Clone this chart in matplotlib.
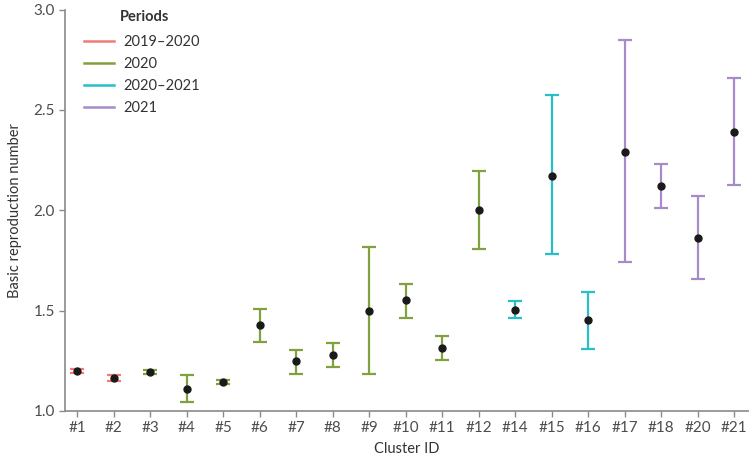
import matplotlib
matplotlib.use("Agg")
import matplotlib.pyplot as plt
from matplotlib.lines import Line2D

plt.rcParams["font.family"] = ["Lato", "DejaVu Sans"]

clusters = ["#1", "#2", "#3", "#4", "#5", "#6", "#7", "#8", "#9", "#10",
            "#11", "#12", "#14", "#15", "#16", "#17", "#18", "#20", "#21"]
r0 = [1.20, 1.165, 1.195, 1.11, 1.145, 1.43, 1.25, 1.28, 1.50, 1.55,
      1.315, 2.0, 1.505, 2.17, 1.455, 2.29, 2.12, 1.86, 2.39]
lower = [1.19, 1.15, 1.185, 1.045, 1.135, 1.345, 1.185, 1.22, 1.185, 1.465,
         1.255, 1.805, 1.465, 1.78, 1.31, 1.74, 2.01, 1.655, 2.125]
upper = [1.21, 1.178, 1.203, 1.18, 1.155, 1.51, 1.305, 1.34, 1.815, 1.63,
         1.375, 2.195, 1.545, 2.575, 1.59, 2.85, 2.23, 2.07, 2.66]
period = ["2019–2020", "2019–2020", "2020", "2020", "2020", "2020", "2020", "2020", "2020", "2020",
          "2020", "2020", "2020–2021", "2020–2021", "2020–2021", "2021", "2021", "2021", "2021"]

periods = ["2019–2020", "2020", "2020–2021", "2021"]
colors = {"2019–2020": "#F07B78", "2020": "#7FA13E", "2020–2021": "#27BFC8", "2021": "#A68AC9"}

fig = plt.figure(figsize=(7.49, 4.58), dpi=100, facecolor="white")
ax = fig.add_axes([0.087, 0.103, 0.913, 0.876])

for i, c in enumerate(clusters):
    col = colors[period[i]]
    ax.errorbar(i, r0[i], yerr=[[r0[i] - lower[i]], [upper[i] - r0[i]]],
                fmt="none", ecolor=col, elinewidth=1.6, capsize=5, capthick=1.6, zorder=2)
    ax.plot(i, r0[i], "o", color="#1a1a1a", ms=5, zorder=3)

ax.set_xlim(-0.33, 18.41)
ax.set_ylim(1.0, 3.0)
ax.set_xticks(range(len(clusters)))
ax.set_xticklabels(clusters)
ax.set_yticks([1.0, 1.5, 2.0, 2.5, 3.0])
ax.set_xlabel("Cluster ID", fontsize=10.5, color="#333333", labelpad=5)
ax.set_ylabel("Basic reproduction number", fontsize=10.5, color="#333333", labelpad=8)

for s in ["top", "right"]:
    ax.spines[s].set_visible(False)
for s in ["left", "bottom"]:
    ax.spines[s].set_color("#8a8a8a")
    ax.spines[s].set_linewidth(1.2)
ax.tick_params(colors="#8a8a8a", labelcolor="#4d4d4d", labelsize=11, length=4, width=1)

# legend: title set as separate text so it lines up with the labels
handles = [Line2D([0], [0], color=colors[p], lw=1.8) for p in periods]
leg = ax.legend(handles, periods, loc="upper left",
                bbox_to_anchor=(0.01, 0.965), frameon=False, fontsize=10.5,
                handlelength=2.1, handletextpad=0.6, labelspacing=0.55,
                borderpad=0.3)
for t in leg.get_texts():
    t.set_color("#333333")
fig.text(120 / 749, 1 - 17 / 458, "Periods", fontsize=10.5, fontweight="bold",
         color="#333333", va="center", ha="left")

fig.savefig("out.png", dpi=100, facecolor="white")
